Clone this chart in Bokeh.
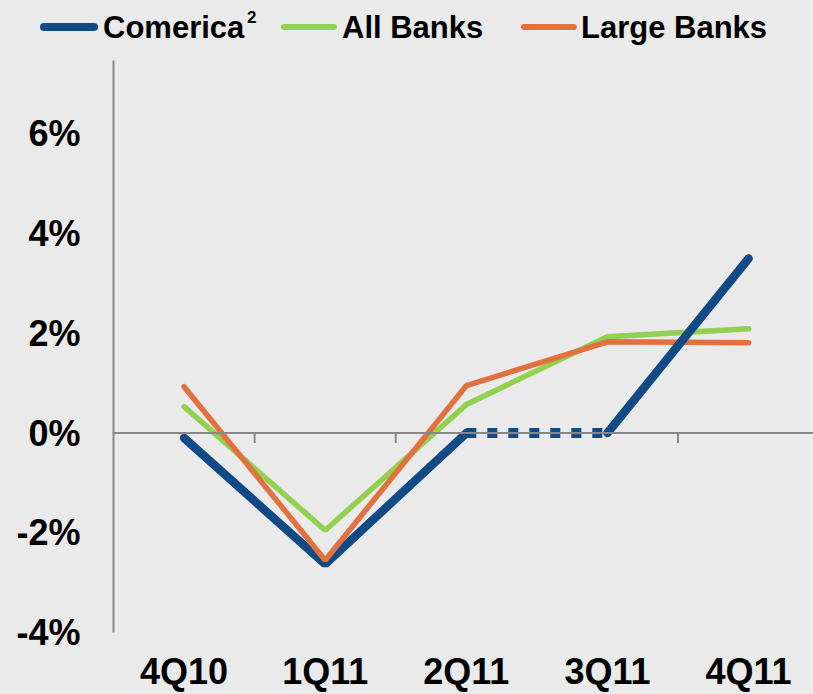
from bokeh.plotting import figure
from bokeh.layouts import column
from bokeh.models import Range1d, FixedTicker, Span, Div
from bokeh.embed import file_html
from bokeh.resources import INLINE

quarters = ["4Q10", "1Q11", "2Q11", "3Q11", "4Q11"]
comerica = [-0.1, -2.63, 0.0, 0.0, 3.5]
all_banks = [0.53, -1.95, 0.57, 1.93, 2.09]
large_banks = [0.93, -2.55, 0.95, 1.83, 1.81]
y_ticks = [-4, -2, 0, 2, 4, 6]
y_tick_labels = ["-4%", "-2%", "0%", "2%", "4%", "6%"]
boundary_ticks = [0.5, 1.5, 3.5]
series_names = ["Comerica", "All Banks", "Large Banks"]
comerica_note = "2"

BLUE = "#124A86"
GREEN = "#92D050"
ORANGE = "#E3703F"
GRAY = "#888888"
BG = "#EAEAEA"
FONT = "Liberation Sans"

xs = list(range(len(quarters)))

# ---- legend strip (HTML) ----
legend_layout = [  # (sample left, sample width, sample thickness, colour, text left)
    (40, 58, 8, BLUE, 103),
    (281, 56, 6, GREEN, 342),
    (521, 56, 6, ORANGE, 581),
]
parts = []
for (sl, sw, st, col, tl), name in zip(legend_layout, series_names):
    parts.append(
        f'<span style="position:absolute;left:{sl}px;top:{27 - st / 2}px;width:{sw}px;'
        f'height:{st}px;background:{col};border-radius:{st / 2}px;"></span>')
    parts.append(
        f'<span style="position:absolute;left:{tl}px;top:12px;line-height:31px;'
        f'white-space:nowrap;">{name}</span>')
parts.append(
    f'<span style="position:absolute;left:247px;top:9px;font-size:17px;line-height:17px;">'
    f'{comerica_note}</span>')
legend_html = (
    f'<div style="position:relative;width:813px;height:60px;background:{BG};'
    f"font-family:'{FONT}';font-weight:bold;font-size:31px;color:black;overflow:hidden;\">"
    + "".join(parts) + "</div>")
legend_div = Div(text=legend_html, width=813, height=60, margin=0)

# ---- main chart ----
p = figure(width=813, height=634, output_backend="svg", toolbar_location=None,
           x_range=Range1d(-0.5, 4.46), y_range=Range1d(-4, 7.47),
           min_border_left=113, min_border_right=0, min_border_top=0, min_border_bottom=61)
p.background_fill_color = BG
p.border_fill_color = BG
p.outline_line_color = None
p.grid.visible = False

# y axis
p.yaxis.ticker = FixedTicker(ticks=y_ticks)
p.yaxis.major_label_overrides = {t: l for t, l in zip(y_ticks, y_tick_labels)}
p.yaxis.axis_line_color = GRAY
p.yaxis.axis_line_width = 2
p.yaxis.major_tick_line_color = None
p.yaxis.minor_tick_line_color = None
p.yaxis.major_tick_out = 0
p.yaxis.major_tick_in = 0
p.yaxis.minor_tick_out = 0
p.yaxis.major_label_standoff = 33
p.yaxis.major_label_text_font = FONT
p.yaxis.major_label_text_font_style = "bold"
p.yaxis.major_label_text_font_size = "36px"
p.yaxis.major_label_text_color = "black"

# x axis
p.xaxis.ticker = FixedTicker(ticks=xs)
p.xaxis.major_label_overrides = {i: q for i, q in zip(xs, quarters)}
p.xaxis.axis_line_color = None
p.xaxis.major_tick_line_color = None
p.xaxis.minor_tick_line_color = None
p.xaxis.major_tick_out = 0
p.xaxis.major_tick_in = 0
p.xaxis.minor_tick_out = 0
p.xaxis.axis_label_standoff = 0
p.xaxis.major_label_standoff = 18
p.xaxis.major_label_text_font = FONT
p.xaxis.major_label_text_font_style = "bold"
p.xaxis.major_label_text_font_size = "36px"
p.xaxis.major_label_text_color = "black"

# zero line and its ticks
p.add_layout(Span(location=0, dimension="width", line_color=GRAY, line_width=2))
p.segment(x0=boundary_ticks, y0=[0] * len(boundary_ticks), x1=boundary_ticks,
          y1=[-0.2] * len(boundary_ticks), line_color=GRAY, line_width=2)

# Comerica solid first part
p.line(xs[:3], comerica[:3], line_color=BLUE, line_width=8.5, line_cap="round")
# All Banks / Large Banks
p.line(xs, all_banks, line_color=GREEN, line_width=5.5, line_cap="round")
p.line(xs, large_banks, line_color=ORANGE, line_width=5.5, line_cap="round")
# Comerica dotted part and final segment
p.line(xs[2:4], comerica[2:4], line_color=BLUE, line_width=10, line_dash="10 11")
p.line(xs[3:], comerica[3:], line_color=BLUE, line_width=8.5, line_cap="round")

layout = column(legend_div, p, spacing=0)
html = file_html(layout, INLINE)
html = html.replace("</head>", "<style>html,body{margin:0;overflow:hidden;background:%s;}</style></head>" % BG, 1)
open("out.html", "w").write(html)
